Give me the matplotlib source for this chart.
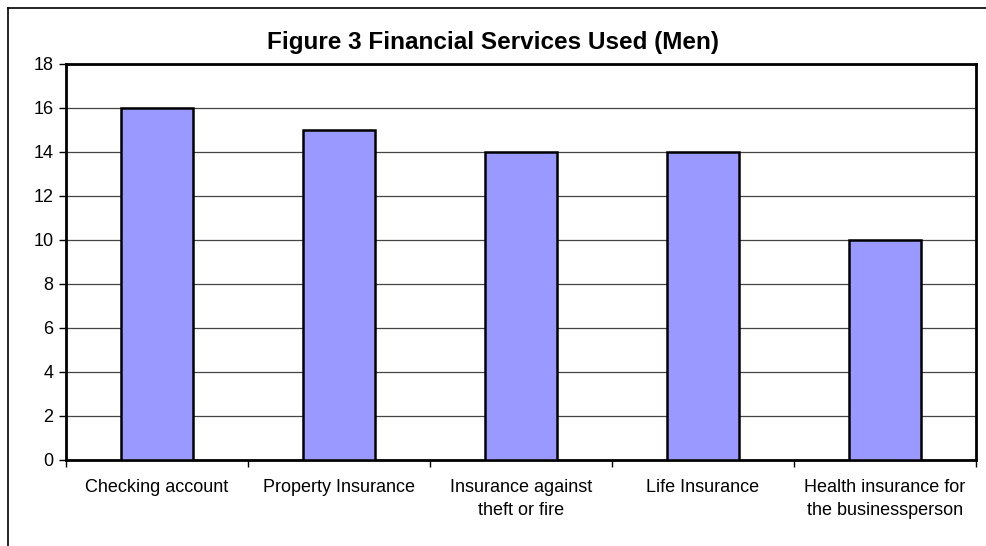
import matplotlib.pyplot as plt
from matplotlib.lines import Line2D
import numpy as np

plt.rcParams['font.family'] = ['Liberation Sans', 'DejaVu Sans']

services = ['Checking account', 'Property Insurance', 'Insurance against\ntheft or fire',
            'Life Insurance', 'Health insurance for\nthe businessperson']
counts = [16, 15, 14, 14, 10]

W, H = 986, 546
fig = plt.figure(figsize=(W / 100, H / 100), dpi=100)
ax = fig.add_axes([66 / W, 1 - 460 / H, 910 / W, 396 / H])

x = np.arange(len(services))
ax.bar(x, counts, width=0.4, color='#9999FF', edgecolor='black', linewidth=1.8, zorder=3)

ax.set_xlim(-0.5, len(services) - 0.5)
ax.set_ylim(0, 18)
ax.set_yticks(np.arange(0, 19, 2))
ax.yaxis.grid(True, color='#444444', linewidth=0.9)
ax.set_axisbelow(True)

# category labels centred under bars, tick marks between categories
ax.set_xticks(x)
ax.set_xticklabels(services, fontsize=13, linespacing=1.4)
ax.tick_params(axis='x', length=0, pad=14)
ax.set_xticks(np.arange(-0.5, len(services)), minor=True)
ax.tick_params(axis='x', which='minor', length=5, width=1, direction='out')
ax.tick_params(axis='y', length=5, width=1, direction='out', labelsize=13, pad=4)

for s in ax.spines.values():
    s.set_linewidth(2)
    s.set_color('black')

fig.text(0.5, 1 - 42 / H, 'Figure 3 Financial Services Used (Men)',
         ha='center', va='center', fontsize=17.5, fontweight='bold')

# outer chart frame (top and left edges)
fig.add_artist(Line2D([8 / W, 1], [1 - 8 / H, 1 - 8 / H], color='black', linewidth=1.2))
fig.add_artist(Line2D([8 / W, 8 / W], [0, 1 - 8 / H], color='black', linewidth=1.2))

fig.savefig('out.png', dpi=100, facecolor='white')
